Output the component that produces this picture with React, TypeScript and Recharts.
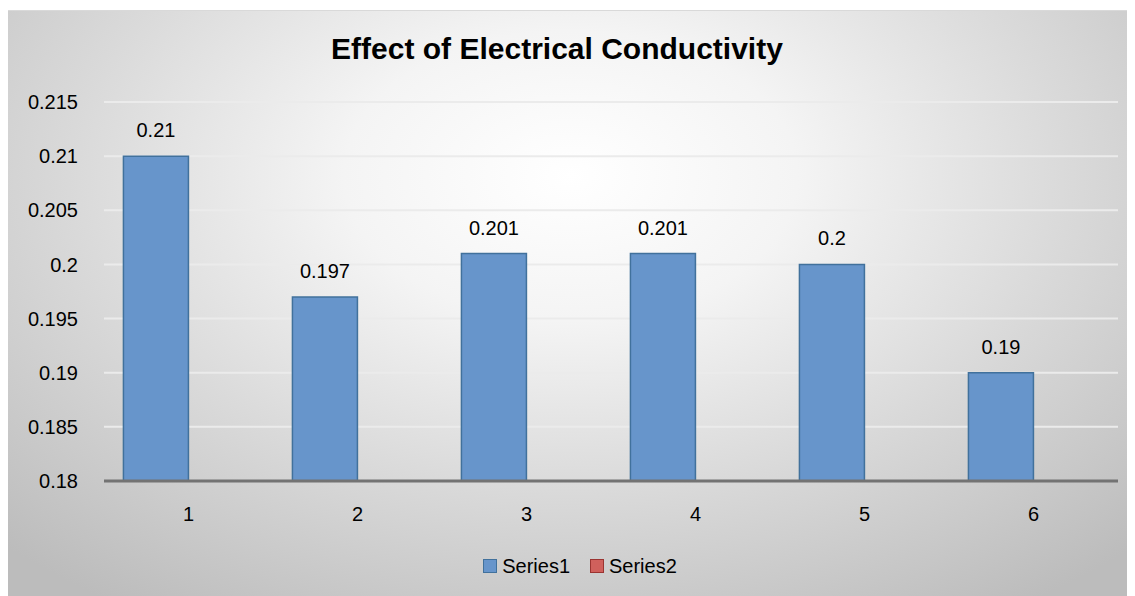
import React from 'react';
import {
  BarChart,
  Bar,
  XAxis,
  YAxis,
  CartesianGrid,
  Legend,
  LabelList,
} from 'recharts';

const categories = ['1', '2', '3', '4', '5', '6'];
const series1 = [0.21, 0.197, 0.201, 0.201, 0.2, 0.19];
const series2: (number | null)[] = [null, null, null, null, null, null];
const yTicks = [0.18, 0.185, 0.19, 0.195, 0.2, 0.205, 0.21, 0.215];

const data = categories.map((name, i) => ({
  name,
  Series1: series1[i],
  Series2: series2[i],
}));

const FONT = '"Liberation Sans", Arial, sans-serif';

const fmt = (v: number) => String(Number(v.toFixed(3)));

const LegendContent = () => {
  const items = [
    { label: 'Series1', fill: '#6795cb', stroke: '#41719c' },
    { label: 'Series2', fill: '#d0605c', stroke: '#9b3431' },
  ];
  return (
    <div
      style={{
        height: 24,
        display: 'flex',
        justifyContent: 'center',
        alignItems: 'center',
        fontFamily: FONT,
        fontSize: 20,
        color: '#000',
        paddingLeft: 34,
      }}
    >
      {items.map((it, i) => (
        <div key={it.label} style={{ display: 'flex', alignItems: 'center', marginLeft: i ? 20 : 0 }}>
          <span
            style={{
              width: 12,
              height: 12,
              background: it.fill,
              border: `1.5px solid ${it.stroke}`,
              marginRight: 5,
              display: 'inline-block',
            }}
          />
          {it.label}
        </div>
      ))}
    </div>
  );
};

const App: React.FC = () => {
  return (
    <div
      style={{
        position: 'relative',
        width: 1127,
        height: 590,
        marginTop: 2,
        marginLeft: -1,
        border: '1px solid #d9d9d9',
        boxSizing: 'border-box',
        background:
          'radial-gradient(ellipse 72% 88% at 50% 28%, #ffffff 0%, #f4f4f4 28%, #d9d9d9 62%, #bcbcbc 100%)',
      }}
    >
      <div
        style={{
          position: 'absolute',
          top: 21,
          left: 0,
          width: 1098,
          textAlign: 'center',
          fontFamily: FONT,
          fontWeight: 'bold',
          fontSize: 30,
          color: '#000',
        }}
      >
        Effect of Electrical Conductivity
      </div>
      <BarChart
        width={1127}
        height={590}
        data={data}
        margin={{ top: 91, right: 17, bottom: 23, left: 0 }}
        barCategoryGap="11.5%"
        barGap={0}
      >
        <CartesianGrid vertical={false} stroke="#ebebeb" strokeWidth={2} />
        <XAxis
          dataKey="name"
          height={73}
          axisLine={{ stroke: '#737373', strokeWidth: 3 }}
          tickLine={false}
          tickMargin={20}
          tick={{ fill: '#000', fontSize: 20, fontFamily: FONT }}
        />
        <YAxis
          width={96}
          domain={[0.18, 0.215]}
          ticks={yTicks}
          axisLine={false}
          tickLine={false}
          tickMargin={20}
          tickFormatter={fmt}
          tick={{ fill: '#000', fontSize: 20, fontFamily: FONT }}
        />
        <Legend verticalAlign="bottom" content={<LegendContent />} />
        <Bar
          dataKey="Series1"
          fill="#6795cb"
          stroke="#41719c"
          strokeWidth={1.5}
          isAnimationActive={false}
        >
          <LabelList
            dataKey="Series1"
            position="top"
            offset={19}
            formatter={(v: any) => fmt(Number(v))}
            style={{ fill: '#000', fontSize: 20, fontFamily: FONT }}
          />
        </Bar>
        <Bar
          dataKey="Series2"
          fill="#d0605c"
          stroke="#9b3431"
          isAnimationActive={false}
        />
      </BarChart>
    </div>
  );
};

export default App;
